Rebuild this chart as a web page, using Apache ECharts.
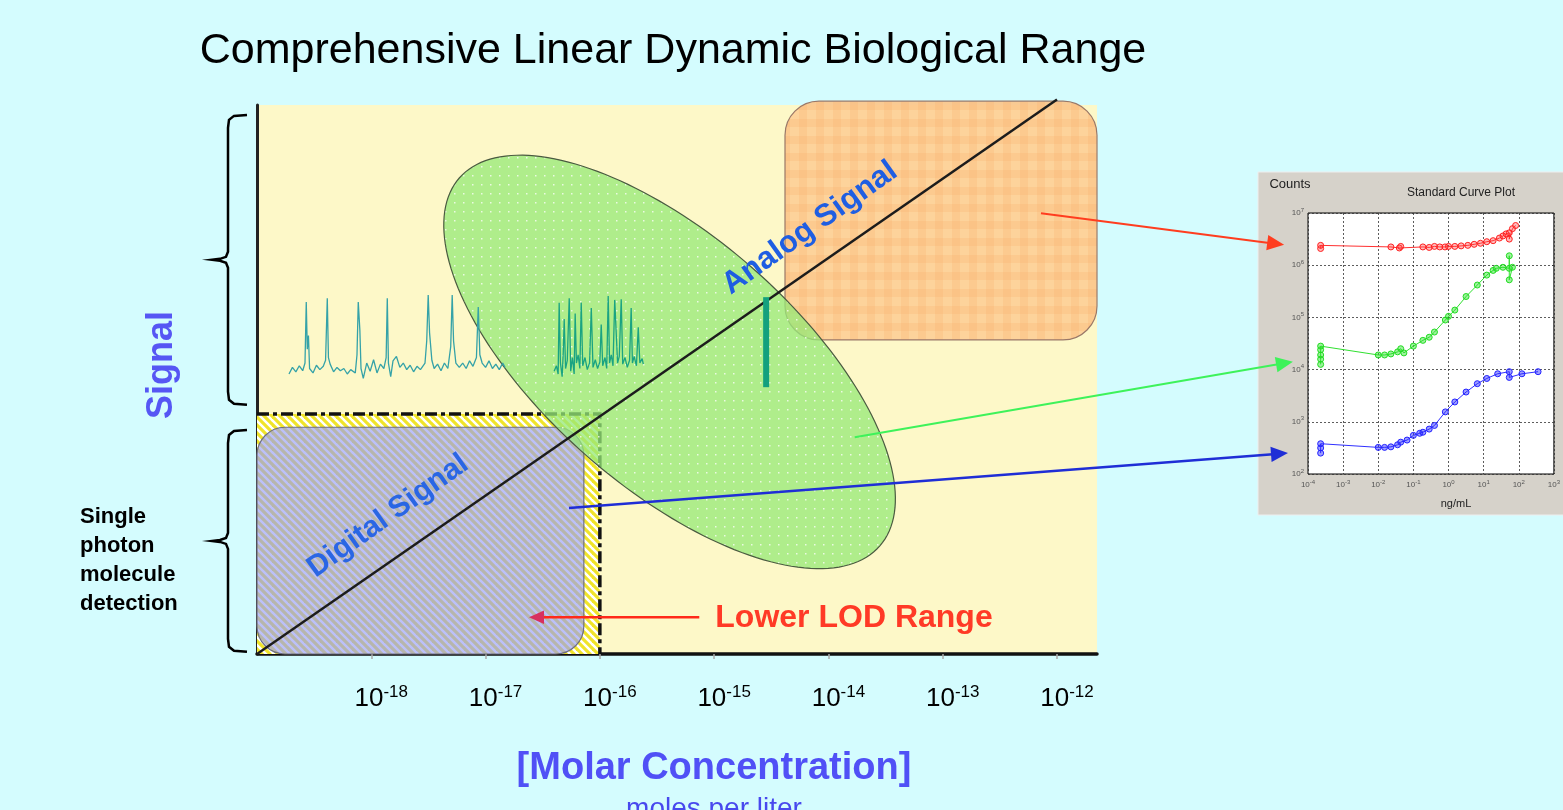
<!DOCTYPE html>
<html>
<head>
<meta charset="utf-8">
<script src="https://cdn.jsdelivr.net/npm/echarts@6/dist/echarts.min.js"></script>
<style>
  html, body { margin: 0; padding: 0; background: #d4fcfe; }
  #main { width: 1563px; height: 810px; }
</style>
</head>
<body>
<div id="main"></div>
<script>
var chart = echarts.init(document.getElementById('main'));
var FONT = '"Liberation Sans", Arial, sans-serif';

// main panel: x = log10 molar concentration, y = relative signal
var xTicks = [-18, -17, -16, -15, -14, -13, -12];
var diagonal = [[-19, 0], [-12, 10.1]];
var lodRegion = [-19, -16, 0, 4.37];          // x0, x1, y0, y1
var digitalBox = [-19, -16.14, 0, 4.13];
var analogBox = [-14.38, -11.65, 5.72, 10.07];
var ellipseAxes = [-15.39, 5.32, -13.55, 1.97, -16.11, 3.60]; // centre, end of long axis, end of short axis

// single molecule bursts (digital) and dense bursts
var traceDigital = [
  [-18.72,5.10],[-18.69,5.22],[-18.66,5.14],[-18.63,5.25],[-18.60,5.16],[-18.58,5.30],[-18.569,6.41],
  [-18.56,5.55],[-18.55,5.80],[-18.54,5.20],[-18.51,5.12],[-18.48,5.26],[-18.45,5.18],[-18.42,5.24],
  [-18.40,5.35],[-18.385,6.48],[-18.375,5.40],[-18.36,5.28],[-18.33,5.14],[-18.30,5.22],[-18.27,5.16],
  [-18.24,5.20],[-18.21,5.10],[-18.18,5.18],[-18.14,5.12],[-18.125,5.45],[-18.114,6.41],[-18.10,5.90],
  [-18.09,5.20],[-18.07,5.02],[-18.04,5.30],[-18.01,5.15],[-17.98,5.36],[-17.95,5.12],[-17.92,5.28],
  [-17.89,5.20],[-17.87,5.40],[-17.860,6.48],[-17.85,5.30],[-17.83,5.05],[-17.81,5.34],[-17.78,5.42],
  [-17.75,5.22],[-17.72,5.30],[-17.69,5.18],[-17.66,5.26],[-17.63,5.14],[-17.60,5.24],[-17.57,5.18],
  [-17.53,5.30],[-17.515,5.70],[-17.502,6.54],[-17.49,5.85],[-17.47,5.35],[-17.45,5.20],[-17.42,5.28],
  [-17.39,5.16],[-17.36,5.30],[-17.33,5.20],[-17.305,5.60],[-17.292,6.54],[-17.28,5.70],[-17.26,5.30],
  [-17.23,5.22],[-17.20,5.30],[-17.17,5.20],[-17.14,5.34],[-17.11,5.24],[-17.08,5.40],[-17.064,6.32],
  [-17.05,5.45],[-17.03,5.30],[-17.00,5.22],[-16.97,5.34],[-16.94,5.20],[-16.91,5.28],[-16.88,5.18],
  [-16.85,5.30],[-16.83,5.22]
];
var traceDense = [
  [-16.40,5.15],[-16.38,5.25],[-16.365,5.10],[-16.356,6.40],[-16.345,5.30],[-16.33,5.05],[-16.32,5.50],
  [-16.312,6.10],[-16.30,5.20],[-16.285,5.35],[-16.268,6.48],[-16.255,5.15],[-16.24,5.40],[-16.225,5.10],
  [-16.216,6.20],[-16.205,5.30],[-16.19,5.45],[-16.175,5.20],[-16.163,6.40],[-16.15,5.25],[-16.13,5.40],
  [-16.11,5.18],[-16.09,5.30],[-16.075,6.30],[-16.06,5.22],[-16.04,5.36],[-16.02,5.20],[-16.00,5.32],
  [-15.988,6.00],[-15.975,5.25],[-15.955,5.40],[-15.94,5.20],[-15.927,6.52],[-15.915,5.30],[-15.90,5.45],
  [-15.885,5.25],[-15.87,6.45],[-15.857,6.48],[-15.845,5.30],[-15.83,5.42],[-15.813,6.46],[-15.80,5.28],
  [-15.78,5.40],[-15.76,5.22],[-15.74,5.35],[-15.726,6.30],[-15.715,5.30],[-15.70,5.42],[-15.68,5.25],
  [-15.664,5.95],[-15.65,5.30],[-15.63,5.38],[-15.62,5.28]
];
var traceBurst = [[-14.545, 6.50], [-14.545, 4.86]];

var braceUpper = [9.82, 4.54];
var braceLower = [4.08, 0.04];

// inset standard curves: log10 ng/mL vs log10 counts
var curveRed = [
  [-3.64,6.32],[-3.64,6.38],[-1.64,6.35],[-1.40,6.33],[-1.36,6.36],[-0.73,6.35],[-0.55,6.34],
  [-0.40,6.36],[-0.25,6.35],[-0.10,6.35],[0.00,6.36],[0.18,6.36],[0.36,6.37],[0.55,6.38],[0.73,6.40],
  [0.91,6.42],[1.09,6.45],[1.27,6.47],[1.45,6.52],[1.55,6.56],[1.64,6.60],[1.73,6.62],[1.73,6.50],
  [1.82,6.70],[1.91,6.76]
];
var curveGreen = [
  [-3.64,4.10],[-3.64,4.20],[-3.64,4.28],[-3.64,4.38],[-3.64,4.45],[-2.00,4.28],[-1.82,4.28],
  [-1.64,4.30],[-1.45,4.34],[-1.36,4.40],[-1.27,4.32],[-1.00,4.45],[-0.73,4.56],[-0.55,4.62],
  [-0.40,4.72],[-0.09,4.95],[0.00,5.02],[0.18,5.14],[0.50,5.40],[0.82,5.62],[1.09,5.81],[1.27,5.90],
  [1.36,5.94],[1.55,5.96],[1.73,5.94],[1.73,6.18],[1.73,5.72],[1.82,5.96]
];
var curveBlue = [
  [-3.64,2.40],[-3.64,2.50],[-3.64,2.58],[-2.00,2.51],[-1.82,2.51],[-1.64,2.52],[-1.45,2.56],
  [-1.36,2.61],[-1.18,2.65],[-1.00,2.74],[-0.82,2.78],[-0.73,2.80],[-0.55,2.86],[-0.40,2.93],
  [-0.09,3.19],[0.18,3.38],[0.50,3.57],[0.82,3.73],[1.09,3.83],[1.40,3.92],[1.73,3.96],[1.73,3.85],
  [2.09,3.92],[2.55,3.96]
];

// arrows: start in main panel, end in inset
var arrowRed = [[-12.14, 8.03], [-4.68, 6.39]];
var arrowGreen = [[-13.77, 3.95], [-4.43, 4.15]];
var arrowBlue = [[-16.27, 2.66], [-4.57, 2.40]];
var arrowLod = [[-15.13, 0.67], [-16.62, 0.67]];

function tile(size, draw) {
  var c = document.createElement('canvas');
  c.width = c.height = size;
  draw(c.getContext('2d'), size);
  return { image: c, repeat: 'repeat' };
}
var stripeFill = tile(16, function (g, s) {
  g.fillStyle = '#ffffff'; g.fillRect(0, 0, s, s);
  g.strokeStyle = '#f0e42a'; g.lineWidth = 3.2;
  for (var k = -s; k <= s; k += s / 2) {
    g.beginPath(); g.moveTo(k - 2, -2); g.lineTo(k + s + 2, s + 2); g.stroke();
  }
});
var dotFill = tile(9, function (g, s) {
  g.fillStyle = 'rgba(150,232,120,0.76)'; g.fillRect(0, 0, s, s);
  g.fillStyle = 'rgba(255,255,255,0.75)'; g.fillRect(4, 4, 1.5, 1.5);
});
var plaidFill = tile(17, function (g, s) {
  g.fillStyle = 'rgba(253,206,150,0.9)'; g.fillRect(0, 0, s, s);
  g.fillStyle = 'rgba(246,170,100,0.22)';
  g.fillRect(0, 0, 8, s); g.fillRect(0, 0, s, 8);
});

function rectSeries(box, fill, stroke, r, z) {
  return {
    type: 'custom', xAxisIndex: 0, yAxisIndex: 0, z: z, silent: true,
    data: [box],
    renderItem: function (params, api) {
      var p0 = api.coord([api.value(0), api.value(3)]);
      var p1 = api.coord([api.value(1), api.value(2)]);
      return {
        type: 'rect',
        shape: { x: p0[0], y: p0[1], width: p1[0] - p0[0], height: p1[1] - p0[1], r: r },
        style: { fill: fill, stroke: stroke, lineWidth: 1.2 }
      };
    }
  };
}

function supLabel(size, sup) {
  return {
    formatter: function (v) { return '{b|10}{s|' + v + '}'; },
    rich: {
      b: { fontSize: size, lineHeight: size + 4, fontFamily: FONT, color: '#000' },
      s: { fontSize: sup, verticalAlign: 'top', fontFamily: FONT, color: '#000' }
    }
  };
}

var mainLabel = supLabel(26, 17);
var insetLabel = supLabel(8, 6);
insetLabel.rich.b.color = '#555'; insetLabel.rich.s.color = '#555';

var option = {
  animation: false,
  backgroundColor: '#d4fcfe',
  grid: [
    { left: 257, top: 105, width: 840, height: 549, show: true, backgroundColor: '#fdf8c8', borderWidth: 0 },
    { left: 1308, top: 213, width: 259, height: 261, show: true, backgroundColor: '#ffffff', borderColor: '#000', borderWidth: 1 }
  ],
  xAxis: [
    {
      gridIndex: 0, type: 'value', min: -19, max: -11.65, interval: 1,
      axisLine: { show: true, onZero: false, lineStyle: { color: '#111', width: 3.5 } },
      axisTick: { show: true, length: 5, customValues: xTicks, lineStyle: { color: '#aaa', width: 1.5 } },
      axisLabel: {
        show: true, margin: 30, customValues: xTicks, padding: [0, 0, 0, 20],
        formatter: mainLabel.formatter, rich: mainLabel.rich
      },
      splitLine: { show: false }
    },
    {
      gridIndex: 1, type: 'value', min: -4, max: 3, interval: 1,
      axisLine: { show: false }, axisTick: { show: false },
      axisLabel: { margin: 5, formatter: insetLabel.formatter, rich: insetLabel.rich },
      splitLine: { show: true, lineStyle: { color: '#333', type: [2, 2], width: 0.8 } }
    }
  ],
  yAxis: [
    {
      gridIndex: 0, type: 'value', min: 0, max: 10,
      axisLine: { show: true, onZero: false, lineStyle: { color: '#222', width: 3 } },
      axisTick: { show: false }, axisLabel: { show: false }, splitLine: { show: false }
    },
    {
      gridIndex: 1, type: 'value', min: 2, max: 7, interval: 1,
      axisLine: { show: false }, axisTick: { show: false },
      axisLabel: { margin: 4, formatter: insetLabel.formatter, rich: insetLabel.rich },
      splitLine: { show: true, lineStyle: { color: '#333', type: [2, 2], width: 0.8 } }
    }
  ],
  series: [
    // lower LOD window: striped, dash-dot outline
    {
      type: 'custom', xAxisIndex: 0, yAxisIndex: 0, z: 2, silent: true,
      data: [lodRegion],
      renderItem: function (params, api) {
        var p0 = api.coord([api.value(0), api.value(3)]);
        var p1 = api.coord([api.value(1), api.value(2)]);
        return {
          type: 'group',
          children: [
            { type: 'rect', shape: { x: p0[0], y: p0[1], width: p1[0] - p0[0], height: p1[1] - p0[1] }, style: { fill: stripeFill } },
            {
              type: 'polyline',
              shape: { points: [[p0[0], p0[1]], [p1[0], p0[1]], [p1[0], p1[1]]] },
              style: { fill: null, stroke: '#111', lineWidth: 3.5, lineDash: [12, 4, 4, 4] }
            }
          ]
        };
      }
    },
    rectSeries(digitalBox, 'rgba(150,156,245,0.64)', '#6f6f80', 28, 3),
    rectSeries(analogBox, plaidFill, '#9a7868', 34, 3),
    {
      type: 'custom', xAxisIndex: 0, yAxisIndex: 0, z: 3, silent: true,
      data: [ellipseAxes],
      renderItem: function (params, api) {
        var c = api.coord([api.value(0), api.value(1)]);
        var a = api.coord([api.value(2), api.value(3)]);
        var b = api.coord([api.value(4), api.value(5)]);
        var ax = a[0] - c[0], ay = a[1] - c[1], bx = b[0] - c[0], by = b[1] - c[1];
        var pts = [];
        for (var i = 0; i < 180; i++) {
          var t = i / 180 * Math.PI * 2;
          pts.push([c[0] + ax * Math.cos(t) + bx * Math.sin(t), c[1] + ay * Math.cos(t) + by * Math.sin(t)]);
        }
        return { type: 'polygon', shape: { points: pts }, style: { fill: dotFill, stroke: '#4a5a40', lineWidth: 1.2 } };
      }
    },
    {
      type: 'line', xAxisIndex: 0, yAxisIndex: 0, z: 4, silent: true, clip: false,
      data: diagonal, symbol: 'none', lineStyle: { color: '#1c1c1c', width: 2.5 }
    },
    {
      type: 'line', xAxisIndex: 0, yAxisIndex: 0, z: 4, silent: true,
      data: traceDigital, symbol: 'none', lineStyle: { color: '#35a2a8', width: 1.3 }
    },
    {
      type: 'line', xAxisIndex: 0, yAxisIndex: 0, z: 4, silent: true,
      data: traceDense, symbol: 'none', lineStyle: { color: '#1aa382', width: 1.3 }
    },
    {
      type: 'line', xAxisIndex: 0, yAxisIndex: 0, z: 4, silent: true,
      data: traceBurst, symbol: 'none', lineStyle: { color: '#14a07e', width: 6 }
    },
    // inset standard curves
    {
      type: 'line', xAxisIndex: 1, yAxisIndex: 1, data: curveRed, symbol: 'circle', symbolSize: 6,
      lineStyle: { color: '#ff3030', width: 1 },
      itemStyle: { color: 'rgba(255,60,60,0.35)', borderColor: '#ff2020', borderWidth: 1 }
    },
    {
      type: 'line', xAxisIndex: 1, yAxisIndex: 1, data: curveGreen, symbol: 'circle', symbolSize: 6,
      lineStyle: { color: '#30e030', width: 1 },
      itemStyle: { color: 'rgba(40,225,40,0.45)', borderColor: '#22dd22', borderWidth: 1 }
    },
    {
      type: 'line', xAxisIndex: 1, yAxisIndex: 1, data: curveBlue, symbol: 'circle', symbolSize: 6,
      lineStyle: { color: '#3030ff', width: 1 },
      itemStyle: { color: 'rgba(40,40,255,0.45)', borderColor: '#2222ff', borderWidth: 1 }
    }
  ]
};

chart.setOption(option);

function px(grid, p) { return chart.convertToPixel({ gridIndex: grid }, p); }

function arrow(p0, p1, color, width, head, headColor) {
  var dx = p1[0] - p0[0], dy = p1[1] - p0[1], len = Math.sqrt(dx * dx + dy * dy);
  var ux = dx / len, uy = dy / len;
  var bx = p1[0] - ux * head, by = p1[1] - uy * head, w = head * 0.45;
  return [
    { type: 'line', z: 100, shape: { x1: p0[0], y1: p0[1], x2: bx + ux * 2, y2: by + uy * 2 }, style: { stroke: color, lineWidth: width } },
    { type: 'polygon', z: 100, shape: { points: [[p1[0], p1[1]], [bx - uy * w, by + ux * w], [bx + uy * w, by - ux * w]] }, style: { fill: headColor || color } }
  ];
}

function brace(range) {
  var y0 = px(0, [-19, range[0]])[1], y1 = px(0, [-19, range[1]])[1];
  var ym = (y0 + y1) / 2, x = 228, tip = 212, end = 247;
  return {
    type: 'polyline', z: 100,
    shape: { points: [[end, y0], [x + 6, y0 + 1], [x + 1, y0 + 5], [x, y0 + 13], [x, ym - 8], [x - 2, ym - 3], [x - 8, ym - 1], [tip, ym],
      [x - 8, ym + 1], [x - 2, ym + 3], [x, ym + 8], [x, y1 - 13], [x + 1, y1 - 5], [x + 6, y1 - 1], [end, y1]] },
    style: { fill: null, stroke: '#000', lineWidth: 2.5 }
  };
}

function text(str, x, y, font, color, extra) {
  var el = { type: 'text', z: 100, x: x, y: y, style: { text: str, font: font, fill: color, textAlign: 'center', textVerticalAlign: 'middle' } };
  if (extra) for (var k in extra) el[k] = extra[k];
  return el;
}

var deg = Math.PI / 180;
var graphics = [
  { type: 'rect', z: -5, shape: { x: 1258, y: 172, width: 320, height: 343 }, style: { fill: '#d6d2ca', stroke: '#eeeeee', lineWidth: 1 } },
  text('Counts', 1290, 184, '13px ' + FONT, '#222'),
  text('Standard Curve Plot', 1461, 193, '12px ' + FONT, '#222'),
  text('ng/mL', 1456, 504, '11px ' + FONT, '#222'),
  text('Comprehensive Linear Dynamic Biological Range', 673, 51, '43px ' + FONT, '#000'),
  text('Signal', 162, 365, 'bold 36px ' + FONT, '#5656f4', { rotation: 90 * deg }),
  text('[Molar Concentration]', 714, 769, 'bold 38px ' + FONT, '#5050f6'),
  text('moles per liter', 714, 809, '28px ' + FONT, '#4848ee'),
  text('Digital Signal', 388, 516, 'bold 30px ' + FONT, '#2a66e4', { rotation: 35.5 * deg }),
  text('Analog Signal', 810, 228, 'bold 31px ' + FONT, '#1f5ee2', { rotation: 35.5 * deg }),
  text('Lower LOD Range', 854, 618, 'bold 32px ' + FONT, '#ff3a26'),
  {
    type: 'text', z: 100, x: 80, y: 502,
    style: { text: 'Single\nphoton\nmolecule\ndetection', font: 'bold 22px ' + FONT, fill: '#000', lineHeight: 29, textAlign: 'left', textVerticalAlign: 'top' }
  },
  brace(braceUpper),
  brace(braceLower)
];
graphics = graphics
  .concat(arrow(px(0, arrowRed[0]), px(1, arrowRed[1]), '#ff3d1f', 2, 17))
  .concat(arrow(px(0, arrowGreen[0]), px(1, arrowGreen[1]), '#3ef25a', 2, 17))
  .concat(arrow(px(0, arrowBlue[0]), px(1, arrowBlue[1]), '#1f2ed6', 2.5, 17))
  .concat(arrow(px(0, arrowLod[0]), px(0, arrowLod[1]), '#ff2a1a', 2.5, 15, '#d8305e'));

chart.setOption({ graphic: graphics });
</script>
</body>
</html>
